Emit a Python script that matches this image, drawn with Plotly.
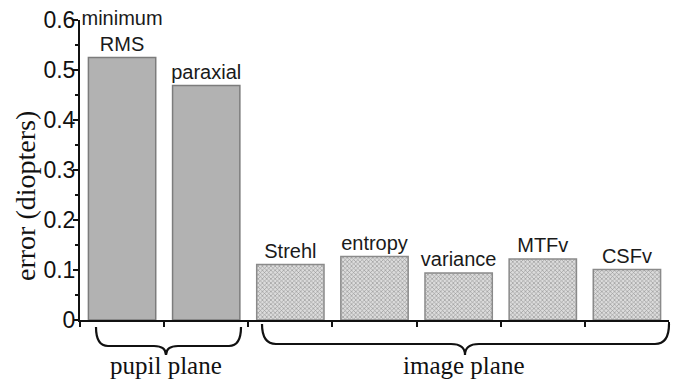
import plotly.graph_objects as go

categories = ["minimum RMS", "paraxial", "Strehl", "entropy", "variance", "MTFv", "CSFv"]
bar_labels = ["minimum<br>RMS", "paraxial", "Strehl", "entropy", "variance", "MTFv", "CSFv"]
errors = [0.525, 0.469, 0.111, 0.127, 0.094, 0.122, 0.101]
groups = ["pupil", "pupil", "image", "image", "image", "image", "image"]
group_labels = {"pupil": "pupil plane", "image": "image plane"}
y_title = "error (diopters)"

W, H = 674, 379
L, R, T, B = 80, 5, 20, 59
PW, PH = W - L - R, H - T - B


def px(x):
    return (x - L) / PW


def py(y):
    return (H - B - y) / PH


fill = ["#b2b2b2" if g == "pupil" else "#dcdcdc" for g in groups]
line_c = ["#7c7c7c" if g == "pupil" else "#8a8a8a" for g in groups]
pat = ["" if g == "pupil" else "x" for g in groups]

fig = go.Figure()
fig.add_trace(go.Bar(
    x=categories, y=errors,
    text=bar_labels, textposition="outside", cliponaxis=False, constraintext="none",
    textfont=dict(family="Liberation Sans, Arial, sans-serif", size=20, color="#1a1a1a"),
    marker=dict(color=fill, line=dict(color=line_c, width=1.5),
                pattern=dict(shape=pat, size=3, solidity=0.35, fgcolor="#a8a8a8",
                             bgcolor="#dcdcdc", fillmode="overlay")),
    width=0.8, showlegend=False, hoverinfo="skip",
))


def brace(x0, x1, cx, tip_y, h_y, cusp_y, r):
    pts = [
        f"M {px(x0)},{py(tip_y)}",
        f"Q {px(x0)},{py(h_y)} {px(x0 + r)},{py(h_y)}",
        f"L {px(cx - r)},{py(h_y)}",
        f"Q {px(cx)},{py(h_y)} {px(cx)},{py(cusp_y)}",
        f"Q {px(cx)},{py(h_y)} {px(cx + r)},{py(h_y)}",
        f"L {px(x1 - r)},{py(h_y)}",
        f"Q {px(x1)},{py(h_y)} {px(x1)},{py(tip_y)}",
    ]
    return " ".join(pts)


shapes = [
    dict(type="path", xref="paper", yref="paper",
         path=brace(96, 241, 166, 327, 346, 355, 12),
         line=dict(color="#111", width=2.2)),
    dict(type="path", xref="paper", yref="paper",
         path=brace(262, 669, 465, 324, 344, 355, 14),
         line=dict(color="#111", width=2.2)),
]

serif = "Liberation Serif, Times New Roman, serif"
annotations = [
    dict(x=px(166), y=py(365), xref="paper", yref="paper", text=group_labels["pupil"],
         xanchor="center", yanchor="middle",
         showarrow=False, font=dict(family=serif, size=25, color="#111")),
    dict(x=px(463), y=py(365), xref="paper", yref="paper", text=group_labels["image"],
         xanchor="center", yanchor="middle",
         showarrow=False, font=dict(family=serif, size=25, color="#111")),
    dict(x=px(25), y=py(196), xref="paper", yref="paper", text=y_title, textangle=-90,
         xanchor="center", yanchor="middle",
         showarrow=False, font=dict(family=serif, size=28, color="#111")),
]

fig.update_layout(
    width=W, height=H,
    margin=dict(l=L, r=R, t=T, b=B),
    paper_bgcolor="white", plot_bgcolor="white",
    bargap=0.2,
    shapes=shapes, annotations=annotations,
    xaxis=dict(showline=True, linecolor="#111", linewidth=2, ticks="outside", ticklen=5,
               tickwidth=1.5, tickcolor="#111", tickson="boundaries", showticklabels=False,
               showgrid=False, zeroline=False, range=[-0.5, 6.5]),
    yaxis=dict(range=[0, 0.6], dtick=0.1, showline=True, linecolor="#111", linewidth=2,
               ticks="outside", ticklen=5, tickwidth=1.5, tickcolor="#111",
               minor=dict(dtick=0.05, ticks="outside", ticklen=3, tickcolor="#111"),
               showgrid=False, zeroline=False, tickformat="~g", ticklabelstandoff=-7,
               tickfont=dict(family="Liberation Sans, Arial, sans-serif", size=23, color="#111")),
)

fig.write_html("out.html")
